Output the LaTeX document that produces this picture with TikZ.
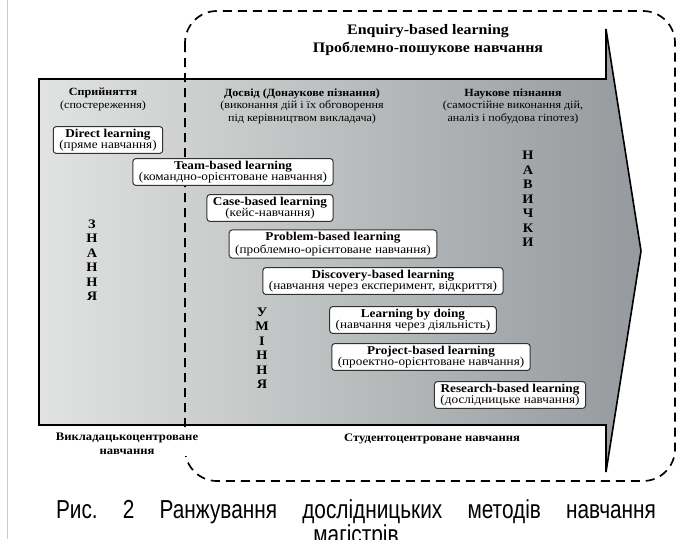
\documentclass[tikz,border=0pt]{standalone}
\usepackage{fontspec}
\setmainfont{Liberation Serif}[FakeStretch=1.1]
\newfontfamily\capfont{Liberation Sans}[FakeStretch=0.8]

\definecolor{shaftlight}{RGB}{224,227,224}
\definecolor{shaftdark}{RGB}{150,153,157}
\definecolor{boxline}{RGB}{50,50,50}

\begin{document}
\begin{tikzpicture}[x=1pt, y=-1pt, thick,
    method/.style={draw=boxline, line width=1pt, fill=white, rounded corners=3pt,
                   align=center, inner xsep=6pt, inner ysep=2.5pt,
                   font=\fontsize{12}{11}\selectfont},
    colhead/.style={align=center, anchor=north, inner sep=0pt,
                    font=\fontsize{11}{12.8}\selectfont},
    letters/.style={align=center, inner sep=0pt,
                    font=\fontsize{13}{14.5}\selectfont\bfseries},
    bottomlabel/.style={align=center, anchor=north, inner sep=1pt,
                        font=\fontsize{11.5}{14}\selectfont\bfseries},
    dashbox/.style={line width=1.7pt, dash pattern=on 9pt off 6pt, rounded corners=32pt}]
  \useasboundingbox (0,0) rectangle (677,539);
  \draw[black!20, line width=0.8pt] (7,0) -- (7,539);

  % the big arrow
  \shade[left color=shaftlight, right color=shaftdark]
    (39,79) -- (606,79) -- (606,29) -- (641,251) -- (606,472) -- (606,425) -- (39,425) -- cycle;
  \draw[line width=1.6pt, line join=miter]
    (39,79) -- (606,79) -- (606,29) -- (641,251) -- (606,472) -- (606,425) -- (39,425) -- cycle;

  % enquiry-based area
  \draw[dashbox] (185,11) rectangle (675,481);
  \node[colhead, font=\fontsize{14.5}{18.5}\selectfont\bfseries] (enquiry) at (428,24)
    {Enquiry-based learning\\Проблемно-пошукове навчання};

  % stages
  \node[colhead] (perception) at (103,88) {\textbf{Сприйняття}\\(спостереження)};
  \node[colhead] (experience) at (302,88)
    {\textbf{Досвід (Донаукове пізнання)}\\(виконання дій і їх обговорення\\під керівництвом викладача)};
  \node[colhead] (science) at (513,88)
    {\textbf{Наукове пізнання}\\(самостійне виконання дій,\\аналіз і побудова гіпотез)};

  \node[letters] (knowledge) at (92,260) {З\\Н\\А\\Н\\Н\\Я};
  \node[letters] (abilities) at (262,348) {У\\М\\І\\Н\\Н\\Я};
  \node[letters] (skills) at (528,199) {Н\\А\\В\\И\\Ч\\К\\И};

  % methods
  \node[method] (direct) at (108,140) {\textbf{Direct learning}\\(пряме навчання)};
  \node[method] (team) at (233,172) {\textbf{Team-based learning}\\(командно-орієнтоване навчання)};
  \node[method] (case) at (270,208) {\textbf{Case-based learning}\\(кейс-навчання)};
  \node[method] (problem) at (333,244) {\textbf{Problem-based learning}\\(проблемно-орієнтоване навчання)};
  \node[method] (discovery) at (383,281) {\textbf{Discovery-based learning}\\(навчання через експеримент, відкриття)};
  \node[method] (doing) at (413,320) {\textbf{Learning by doing}\\(навчання через діяльність)};
  \node[method] (project) at (431,357) {\textbf{Project-based learning}\\(проектно-орієнтоване навчання)};
  \node[method] (research) at (510,395) {\textbf{Research-based learning}\\(дослідницьке навчання)};

  \node[bottomlabel, fill=white] (teacher) at (127,432) {Викладацькоцентроване\\навчання};
  \node[bottomlabel] (student) at (432,432) {Студентоцентроване навчання};

  % caption
  \node[anchor=north, inner sep=0pt, align=center, font=\capfont\fontsize{26}{25}\selectfont] (caption) at (356,499.5)
    {\makebox[600pt][s]{Рис.\hfill 2\hfill Ранжування\hfill дослідницьких\hfill методів\hfill навчання}\\магістрів};
\end{tikzpicture}
\end{document}
